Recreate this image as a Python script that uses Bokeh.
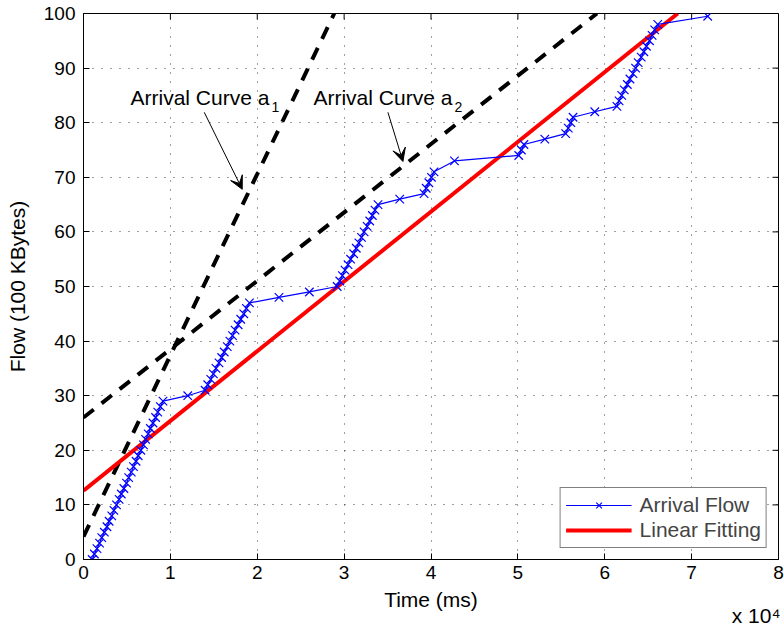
from math import pi

from bokeh.plotting import figure
from bokeh.models import (Range1d, FixedTicker, Label, Arrow, VeeHead, Legend,
                          LegendItem, Title)
from bokeh.embed import file_html
from bokeh.resources import INLINE

# Measured arrival flow: time (ms) and cumulative flow (100 KBytes)
flow_time = [1000, 1250, 1550, 1850, 2100, 2400, 2700, 2950, 3250, 3500,
             3800, 4100, 4350, 4650, 4950, 5200, 5500, 5750, 6050, 6300,
             6600, 6900, 7150, 7450, 7700, 8000, 8300, 8550, 8850, 9150,
             12000,
             14000, 14300, 14650, 14950, 15250, 15600, 15900, 16200, 16550,
             16850, 17150, 17450, 17800, 18100, 18450, 18750, 19100,
             22500, 26000, 29200,
             29500, 29800, 30100, 30450, 30750, 31100, 31400, 31700, 32000,
             32300, 32650, 32950, 33250, 33550, 33900,
             36400, 39200, 39450, 39750, 40050, 40350, 42700,
             50100, 50400, 50700, 53100, 55500, 55800, 56100, 56350,
             58850, 61400, 61650,
             61950, 62250, 62600, 62900, 63250, 63550, 63850, 64200, 64500,
             64800, 65150, 65450, 65750, 66100,
             71850]
flow_value = [0, 1, 2, 3, 4, 5, 6, 7, 8, 9,
              10, 11, 12, 13, 14, 15, 16, 17, 18, 19,
              20, 21, 22, 23, 24, 25, 26, 27, 28, 29,
              30,
              31, 32, 33, 34, 35, 36, 37, 38, 39,
              40, 41, 42, 43, 44, 45, 46, 47,
              48, 49, 50,
              51, 52, 53, 54, 55, 56, 57, 58, 59,
              60, 61, 62, 63, 64, 65,
              66, 67, 68, 69, 70, 71, 73,
              74, 75, 76, 77, 78, 79, 80, 81,
              82, 83, 84,
              85, 86, 87, 88, 89, 90, 91, 92, 93,
              94, 95, 96, 97, 98,
              99.5]

# Least-squares line through the flow
fit_time = [0, 68400]
fit_value = [12.6, 100]

# Arrival curves a1 and a2
curve1_time = [0, 28860]
curve1_value = [4.2, 100]
curve2_time = [0, 59100]
curve2_value = [26.0, 100]

x_ticks = [0, 10000, 20000, 30000, 40000, 50000, 60000, 70000, 80000]
x_tick_labels = ["0", "1", "2", "3", "4", "5", "6", "7", "8"]
y_ticks = [0, 10, 20, 30, 40, 50, 60, 70, 80, 90, 100]
X_MAX = 80000
Y_MAX = 100

FONT = "Liberation Sans"
TEXT_SIZE = "21px"
TICK_SIZE = "19px"

p = figure(width=784, height=626, output_backend="svg", toolbar_location=None,
           x_range=Range1d(0, X_MAX), y_range=Range1d(0, Y_MAX),
           min_border_left=83, min_border_right=6, min_border_top=13,
           min_border_bottom=67, background_fill_color="white",
           border_fill_color="white")
p.outline_line_color = "black"
p.outline_line_width = 1

# Bottom / left axes with inward ticks
for ax, ticks in ((p.xaxis[0], x_ticks), (p.yaxis[0], y_ticks)):
    ax.ticker = FixedTicker(ticks=ticks)
    ax.major_tick_in = 6
    ax.major_tick_out = 0
    ax.minor_tick_line_color = None
    ax.axis_line_color = "black"
    ax.major_tick_line_color = "black"
    ax.major_label_text_font = FONT
    ax.major_label_text_font_size = TICK_SIZE
    ax.major_label_text_color = "black"
    ax.axis_label_text_font = FONT
    ax.axis_label_text_font_size = TEXT_SIZE
    ax.axis_label_text_font_style = "normal"
    ax.axis_label_text_color = "black"

p.xaxis[0].major_label_overrides = dict(zip(x_ticks, x_tick_labels))
p.xaxis[0].axis_label = "Time (ms)"
p.xaxis[0].major_label_standoff = 6
p.xaxis[0].axis_label_standoff = 6
p.yaxis[0].axis_label = "Flow (100 KBytes)"
p.yaxis[0].major_label_standoff = 8
p.yaxis[0].axis_label_standoff = 12

# Dotted grid
p.xgrid.ticker = FixedTicker(ticks=x_ticks)
p.ygrid.ticker = FixedTicker(ticks=y_ticks)
for g in (p.xgrid[0], p.ygrid[0]):
    g.grid_line_color = "black"
    g.grid_line_alpha = 0.75
    g.grid_line_dash = "1 8"
    g.grid_line_width = 1

# Inward tick marks along the top and right edges (half of each dash is clipped)
p.scatter(x_ticks, [Y_MAX] * len(x_ticks), marker="dash", angle=pi / 2, size=12,
          line_color="black", line_width=1)
p.scatter([X_MAX] * len(y_ticks), y_ticks, marker="dash", size=12,
          line_color="black", line_width=1)

# Curves
p.line(curve1_time, curve1_value, line_color="black", line_width=4, line_dash="13 10")
p.line(curve2_time, curve2_value, line_color="black", line_width=4, line_dash="13 10")
r_fit = p.line(fit_time, fit_value, line_color="#ff0000", line_width=4)
r_flow = p.line(flow_time, flow_value, line_color="#0000ff", line_width=1.2)
r_pts = p.scatter(flow_time, flow_value, marker="x", size=12, line_color="#0000ff",
                  line_width=1.2)

legend = Legend(items=[LegendItem(label="Arrival Flow", renderers=[r_flow, r_pts]),
                       LegendItem(label="Linear Fitting", renderers=[r_fit])],
                location="bottom_right")
legend.border_line_color = "black"
legend.border_line_width = 1
legend.background_fill_color = "white"
legend.background_fill_alpha = 1
legend.label_text_font = FONT
legend.label_text_font_size = TEXT_SIZE
legend.glyph_width = 66
legend.glyph_height = 20
legend.label_standoff = 8
legend.spacing = 1
legend.padding = 5
legend.margin = 11
p.add_layout(legend)

# Annotations for the arrival curves
for x0, sub in ((5410, "1"), (26470, "2")):
    p.add_layout(Label(x=x0, y=84.56, text="Arrival Curve a", text_font=FONT,
                       text_font_size=TEXT_SIZE, text_baseline="alphabetic",
                       text_color="black"))
    p.add_layout(Label(x=x0, y=84.56, x_offset=141, y_offset=-9, text=sub,
                       text_font=FONT, text_font_size="14px",
                       text_baseline="alphabetic", text_color="black"))

for xs, ys, xe, ye in ((13900, 81.9, 18270, 67.8), (35040, 81.9, 36770, 72.9)):
    p.add_layout(Arrow(end=VeeHead(size=13, fill_color="black", line_color="black"),
                       x_start=xs, y_start=ys, x_end=xe, y_end=ye,
                       line_color="black", line_width=1))

# Axis multiplier under the right end of the x axis
p.add_layout(Title(text="x 10\u2074", align="right", offset=-2, standoff=-27,
                   text_font=FONT, text_font_size=TEXT_SIZE,
                   text_font_style="normal", text_color="black"), "below")

open("out.html", "w").write(file_html(p, INLINE))
